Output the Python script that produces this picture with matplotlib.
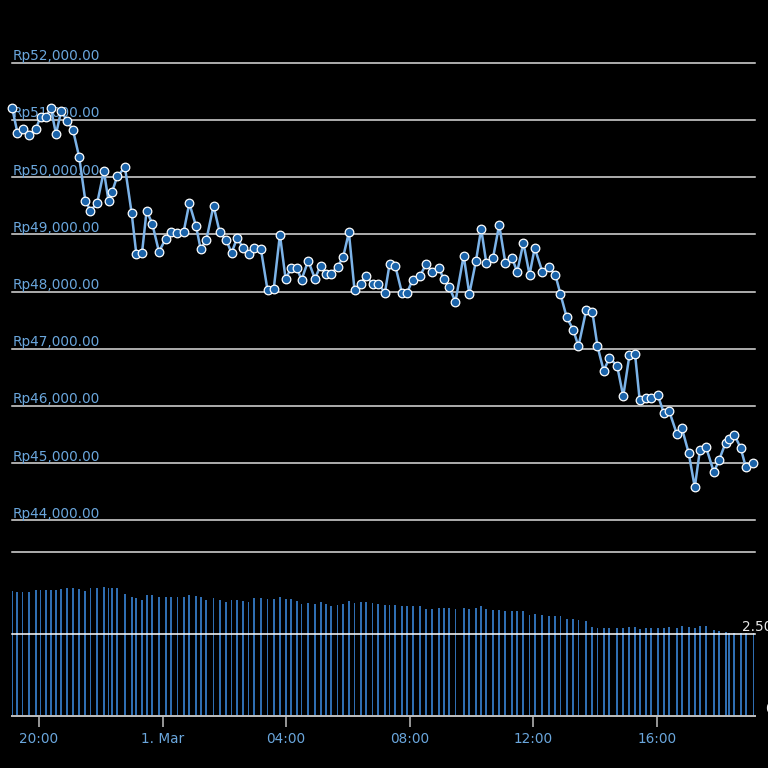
import matplotlib
matplotlib.use('Agg')
import matplotlib.pyplot as plt
import matplotlib.dates as mdates
import matplotlib.transforms as mtransforms
from matplotlib.ticker import FuncFormatter
import pandas as pd

# ---------------- data ----------------
BASE_TIME = "2023-02-28 20:00"
# minutes after BASE_TIME for each sample
minutes = [-52, -42, -32, -19, -6, 3, 13, 23, 33, 43,
           55, 66, 78, 90, 100, 113, 126, 135, 142, 152,
           167, 180, 189, 200, 209, 220, 233, 246, 257, 269,
           281, 292, 305, 314, 325, 339, 351, 364, 374, 385,
           396, 407, 418, 431, 444, 456, 468, 479, 490, 501,
           510, 523, 536, 547, 557, 567, 580, 591, 602, 613,
           625, 635, 648, 659, 672, 681, 692, 705, 715, 726,
           740, 752, 764, 777, 786, 797, 809, 825, 836, 849,
           859, 869, 882, 894, 906, 919, 929, 941, 953, 963,
           978, 990, 1003, 1013, 1025, 1038, 1048, 1063, 1075, 1085,
           1097, 1108, 1123, 1135, 1147, 1158, 1167, 1179, 1189, 1202,
           1214, 1224, 1239, 1249, 1262, 1274, 1284, 1296, 1311, 1321,
           1334, 1341, 1351, 1363, 1373, 1388]

price = [51203, 50776, 50846, 50731, 50846, 51056, 51045, 51203, 50753, 51156,
         50976, 50823, 50351, 49587, 49413, 49547, 50107, 49587, 49745, 50014,
         50171, 49367, 48656, 48668, 49413, 49185, 48696, 48918, 49035, 49023,
         49045, 49542, 49145, 48743, 48900, 49500, 49035, 48895, 48673, 48941,
         48766, 48656, 48755, 48743, 48021, 48044, 48993, 48224, 48406, 48406,
         48206, 48538, 48224, 48451, 48311, 48311, 48428, 48608, 49035, 48021,
         48136, 48271, 48136, 48136, 47979, 48476, 48451, 47979, 47979, 48206,
         48271, 48476, 48341, 48406, 48224, 48073, 47822, 48626, 47956, 48538,
         49098, 48498, 48586, 49168, 48498, 48586, 48341, 48853, 48294, 48760,
         48341, 48428, 48294, 47956, 47554, 47327, 47042, 47671, 47642, 47042,
         46615, 46837, 46706, 46168, 46885, 46902, 46098, 46143, 46143, 46190,
         45876, 45916, 45514, 45608, 45182, 44577, 45229, 45276, 44844, 45049,
         45357, 45427, 45491, 45269, 44937, 45002]

# volume, in trillions
volume_t = [3.81, 3.78, 3.79, 3.78, 3.84, 3.84, 3.84, 3.84, 3.84, 3.88,
            3.91, 3.91, 3.88, 3.81, 3.91, 3.91, 3.94, 3.91, 3.91, 3.91,
            3.72, 3.64, 3.60, 3.54, 3.68, 3.70, 3.63, 3.63, 3.63, 3.63,
            3.63, 3.70, 3.67, 3.64, 3.54, 3.60, 3.54, 3.49, 3.53, 3.53,
            3.51, 3.47, 3.59,
            3.59, 3.57, 3.57, 3.63, 3.57, 3.56, 3.51, 3.43, 3.46, 3.43,
            3.48, 3.43, 3.35, 3.39, 3.43, 3.50, 3.44, 3.48, 3.48, 3.44,
            3.43, 3.40, 3.39, 3.39, 3.35, 3.35, 3.35, 3.35, 3.28, 3.28,
            3.30, 3.31, 3.31, 3.28, 3.31, 3.28, 3.31, 3.35, 3.28, 3.24,
            3.24, 3.19, 3.19, 3.19, 3.19, 3.08, 3.11, 3.07, 3.04, 3.04,
            3.04, 2.96, 2.96, 2.92, 2.91, 2.72, 2.68, 2.68, 2.68, 2.68,
            2.68, 2.72, 2.72, 2.64, 2.68, 2.68, 2.68, 2.68, 2.72, 2.68,
            2.75, 2.72, 2.68, 2.75, 2.75, 2.63, 2.59, 2.56, 2.54, 2.54,
            2.54, 2.54, 2.54]

price_ticks = [44000, 45000, 46000, 47000, 48000, 49000, 50000, 51000, 52000]
vol_ticks = [0, 2.5, 5]
x_range_minutes = (-52.5, 1391)

# ---------------- styling ----------------
BG = 'black'
GRID = '#dcdcdc'
LABEL_BLUE = '#6aa6dc'
LINE_BLUE = '#7cb3e8'
MARKER_BLUE = '#1b63a9'
BAR_BLUE = '#2f6eb2'
AXIS_GREY = '#c0c0c0'
FS = 9.8

plt.rcParams['font.family'] = ['DejaVu Sans']

W = H = 768
fig = plt.figure(figsize=(W / 100, H / 100), dpi=100, facecolor=BG)


def px_axes(x0, y0, x1, y1):
    return fig.add_axes([x0 / W, 1 - y1 / H, (x1 - x0) / W, (y1 - y0) / H])


base = pd.Timestamp(BASE_TIME)
times = base + pd.to_timedelta(minutes, unit='min')
xmin = base + pd.Timedelta(minutes=x_range_minutes[0])
xmax = base + pd.Timedelta(minutes=x_range_minutes[1])

# ---------------- price pane ----------------
ax = px_axes(12, 62.7, 755, 520.3)
ax.set_facecolor(BG)
ax.set_xlim(xmin, xmax)
ax.set_ylim(price_ticks[0], price_ticks[-1])
for s in ax.spines.values():
    s.set_visible(False)
ax.set_xticks([])
ax.set_yticks([])

for v in price_ticks:
    ax.axhline(v, color=GRID, lw=1.1, zorder=1, clip_on=False)

lbl_tr = mtransforms.blended_transform_factory(ax.transAxes, ax.transData) + \
    mtransforms.ScaledTranslation(1 / 100, 2.5 / 100, fig.dpi_scale_trans)
for v in price_ticks:
    ax.text(0, v, f"Rp{v:,.2f}", transform=lbl_tr, ha='left', va='baseline',
            color=LABEL_BLUE, fontsize=FS, zorder=2)

ax.plot(times, price, color=LINE_BLUE, lw=1.8, marker='o', ms=6.2,
        mfc=MARKER_BLUE, mec='white', mew=0.9, clip_on=False, zorder=3)

# ---------------- volume pane ----------------
axv = px_axes(12, 552.3, 755, 715.7)
axv.set_facecolor(BG)
axv.set_xlim(xmin, xmax)
axv.set_ylim(vol_ticks[0], vol_ticks[-1])
axv.bar(times, volume_t, width=3.6 / 1440, color=BAR_BLUE, zorder=2, align='center')
for v in vol_ticks[1:]:
    axv.axhline(v, color=GRID if v == vol_ticks[-1] else 'white', lw=1.1,
                zorder=3, clip_on=False)
for k, s in axv.spines.items():
    s.set_visible(k == 'bottom')
axv.spines['bottom'].set_color(AXIS_GREY)
axv.spines['bottom'].set_linewidth(1.4)
axv.spines['bottom'].set_zorder(4)
axv.set_yticks([])

axv.xaxis.set_major_locator(mdates.HourLocator(byhour=[0, 4, 8, 12, 16, 20]))


def fmt(x, pos):
    d = mdates.num2date(x)
    if d.hour == 0 and d.minute == 0:
        return f"{d.day}. {d.strftime('%b')}"
    return d.strftime('%H:%M')


axv.xaxis.set_major_formatter(FuncFormatter(fmt))
axv.tick_params(axis='x', direction='out', length=8, width=1.1, color=AXIS_GREY,
                labelcolor=LABEL_BLUE, labelsize=FS, pad=3.5)

# right-hand volume labels (cut off by the canvas edge as in the reference)
vtr = mtransforms.blended_transform_factory(fig.transFigure, axv.transData)
axv.text(742 / W, 2.5, "2.50T", transform=vtr, ha='left', va='bottom',
         color='#e8e8e8', fontsize=FS, clip_on=False)
axv.text(765.5 / W, 0, "0", transform=vtr, ha='left', va='bottom',
         color='#e8e8e8', fontsize=FS, clip_on=False)

fig.savefig('out.png', dpi=100, facecolor=BG)
